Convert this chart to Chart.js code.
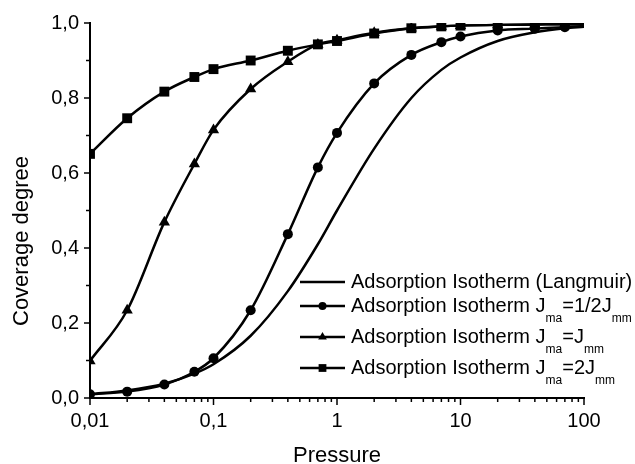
<!DOCTYPE html>
<html>
<head>
<meta charset="utf-8">
<title>Adsorption isotherms</title>
<script src="https://cdn.jsdelivr.net/npm/chart.js@4.4.0/dist/chart.umd.min.js"></script>
<style>
    html, body { margin: 0; padding: 0; background: #fff; }
</style>
</head>
<body>
<canvas id="isoChart" width="635" height="464"></canvas>
<script>
// values
const pressure = [0.01, 0.02, 0.04, 0.07, 0.1, 0.2, 0.4, 0.7, 1, 2, 4, 7, 10, 20, 40, 70, 100];
const langmuir = [0.010, 0.020, 0.038, 0.065, 0.090, 0.166, 0.285, 0.410, 0.500, 0.665, 0.800, 0.875, 0.908, 0.952, 0.975, 0.986, 0.990];
const halfJ = [0.010, 0.017, 0.036, 0.070, 0.106, 0.234, 0.437, 0.615, 0.707, 0.839, 0.915, 0.949, 0.964, 0.980, 0.985, 0.989, 0.992];
const equalJ = [0.099, 0.234, 0.469, 0.624, 0.715, 0.824, 0.897, 0.943, 0.954, 0.974, 0.986, 0.991, 0.993, 0.995, 0.996, 0.997, 0.997];
const doubleJ = [0.651, 0.746, 0.817, 0.856, 0.877, 0.900, 0.926, 0.943, 0.952, 0.972, 0.986, 0.991, 0.993, 0.995, 0.996, 0.997, 0.997];

const xTickLabels = ['0,01', '0,1', '1', '10', '100'];
const yTickLabels = ['0,0', '0,2', '0,4', '0,6', '0,8', '1,0'];
const xTitle = 'Pressure';
const yTitle = 'Coverage degree';

// legend text, second item of each pair = subscript
const legendText = [
    [['Adsorption Isotherm (Langmuir)', false]],
    [['Adsorption Isotherm J', false], ['ma', true], ['=1/2J', false], ['mm', true]],
    [['Adsorption Isotherm J', false], ['ma', true], ['=J', false], ['mm', true]],
    [['Adsorption Isotherm J', false], ['ma', true], ['=2J', false], ['mm', true]]
];

const FONT = "'Liberation Sans', Arial, sans-serif";

function toPoints(ys) {
    return pressure.map((p, i) => ({ x: p, y: ys[i] }));
}

// tick marks (long major / short minor) and axis titles
const axisExtras = {
    id: 'axisExtras',
    afterDraw(chart) {
        const ctx = chart.ctx;
        const xs = chart.scales.x;
        const ys = chart.scales.y;
        const area = chart.chartArea;
        ctx.save();
        ctx.strokeStyle = '#000';
        ctx.fillStyle = '#000';
        ctx.lineWidth = 1.5;

        for (let e = -2; e <= 2; e++) {
            for (let k = 1; k <= 9; k++) {
                const v = k * Math.pow(10, e);
                if (v > xs.max * 1.0001) break;
                const px = xs.getPixelForValue(v);
                ctx.beginPath();
                ctx.moveTo(px, xs.top);
                ctx.lineTo(px, xs.top + (k === 1 ? 7 : 4));
                ctx.stroke();
            }
        }

        for (let i = 0; i <= 10; i++) {
            const py = ys.getPixelForValue(i / 10);
            ctx.beginPath();
            ctx.moveTo(ys.right, py);
            ctx.lineTo(ys.right - (i % 2 === 0 ? 6 : 4), py);
            ctx.stroke();
        }

        ctx.font = '22px ' + FONT;
        ctx.textAlign = 'center';
        ctx.textBaseline = 'alphabetic';
        ctx.fillText(xTitle, (area.left + area.right) / 2, 462);

        ctx.translate(28, 241);
        ctx.rotate(-Math.PI / 2);
        ctx.fillText(yTitle, 0, 0);
        ctx.restore();
    }
};

const isoLegend = {
    id: 'isoLegend',
    afterDraw(chart) {
        const ctx = chart.ctx;
        const area = chart.chartArea;
        const x0 = 300, x1 = 345, tx = 351;
        const rowOffsets = [116, 92, 61, 30];
        ctx.save();
        ctx.fillStyle = '#000';
        ctx.strokeStyle = '#000';
        chart.data.datasets.forEach((ds, i) => {
            const y = area.bottom - rowOffsets[i];
            ctx.lineWidth = 2.5;
            ctx.beginPath();
            ctx.moveTo(x0, y);
            ctx.lineTo(x1, y);
            ctx.stroke();
            if (ds.legendRadius) {
                Chart.helpers.drawPoint(ctx, {
                    pointStyle: ds.pointStyle,
                    radius: ds.legendRadius,
                    rotation: 0,
                    borderWidth: 0
                }, (x0 + x1) / 2, y);
            }
            let x = tx;
            ctx.textBaseline = 'middle';
            ctx.textAlign = 'left';
            legendText[i].forEach(part => {
                ctx.font = (part[1] ? '12px ' : '20px ') + FONT;
                ctx.fillText(part[0], x, part[1] ? y + 13 : y);
                x += ctx.measureText(part[0]).width;
            });
        });
        ctx.restore();
    }
};

const ctx = document.getElementById('isoChart').getContext('2d');

const isoChart = new Chart(ctx, {
    type: 'line',
    data: {
        datasets: [{
            label: 'Adsorption Isotherm (Langmuir)',
            data: toPoints(langmuir),
            pointRadius: 0,
            legendRadius: 0
        }, {
            label: 'Adsorption Isotherm Jma=1/2Jmm',
            data: toPoints(halfJ),
            pointStyle: 'circle',
            pointRadius: c => c.dataIndex === pressure.length - 1 ? 0 : 5,
            legendRadius: 4
        }, {
            label: 'Adsorption Isotherm Jma=Jmm',
            data: toPoints(equalJ),
            pointStyle: 'triangle',
            pointRadius: c => c.dataIndex === pressure.length - 1 ? 0 : 6.5,
            legendRadius: 5
        }, {
            label: 'Adsorption Isotherm Jma=2Jmm',
            data: toPoints(doubleJ),
            pointStyle: 'rect',
            pointRadius: c => c.dataIndex === pressure.length - 1 ? 0 : 7,
            legendRadius: 5.5
        }]
    },
    options: {
        responsive: false,
        animation: false,
        layout: {
            padding: { left: 0, right: 51, top: 22, bottom: 0 }
        },
        elements: {
            line: {
                borderColor: '#000',
                borderWidth: 2.5,
                cubicInterpolationMode: 'monotone'
            },
            point: {
                backgroundColor: '#000',
                borderColor: '#000',
                borderWidth: 0,
                hoverRadius: 0
            }
        },
        plugins: {
            legend: { display: false },
            tooltip: { enabled: false }
        },
        scales: {
            x: {
                type: 'logarithmic',
                min: 0.01,
                max: 100,
                grid: { display: true, drawOnChartArea: false, drawTicks: false },
                border: { display: true, color: '#000', width: 2 },
                ticks: {
                    autoSkip: false,
                    maxRotation: 0,
                    padding: 11,
                    color: '#000',
                    font: { family: FONT, size: 20 },
                    callback: function (value) {
                        const lg = Math.log10(value);
                        if (Math.abs(lg - Math.round(lg)) > 1e-6) return '';
                        return xTickLabels[Math.round(lg) + 2];
                    }
                },
                afterFit: function (scale) {
                    scale.height = 66;
                }
            },
            y: {
                min: 0,
                max: 1,
                grid: { display: true, drawOnChartArea: false, drawTicks: false },
                border: { display: true, color: '#000', width: 2 },
                ticks: {
                    stepSize: 0.2,
                    padding: 11,
                    color: '#000',
                    font: { family: FONT, size: 20 },
                    callback: function (value) {
                        return yTickLabels[Math.round(value * 5)];
                    }
                },
                afterFit: function (scale) {
                    scale.width = 90;
                }
            }
        }
    },
    plugins: [axisExtras, isoLegend]
});
</script>
</body>
</html>
